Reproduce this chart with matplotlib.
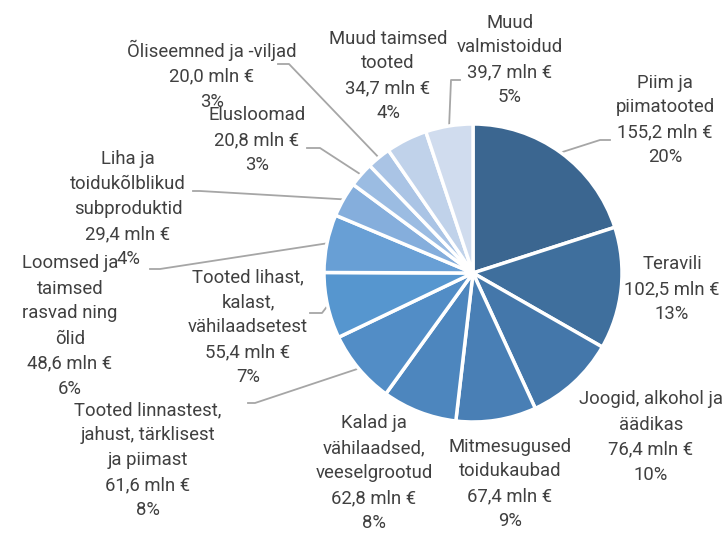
import matplotlib
matplotlib.use("Agg")
import matplotlib.pyplot as plt
import numpy as np

plt.rcParams['font.family'] = ['Roboto', 'DejaVu Sans']

# data, clockwise from 12 o'clock
labels = ["Piim ja\npiimatooted", "Teravili", "Joogid, alkohol ja\näädikas",
          "Mitmesugused\ntoidukaubad", "Kalad ja\nvähilaadsed,\nveeselgrootud",
          "Tooted linnastest,\njahust, tärklisest\nja piimast",
          "Tooted lihast,\nkalast,\nvähilaadsetest",
          "Loomsed ja\ntaimsed\nrasvad ning\nõlid",
          "Liha ja\ntoidukõlblikud\nsubproduktid", "Elusloomad",
          "Õliseemned ja -viljad", "Muud taimsed\ntooted", "Muud\nvalmistoidud"]
values = [155.2, 102.5, 76.4, 67.4, 62.8, 61.6, 55.4, 48.6, 29.4, 20.8, 20.0, 34.7, 39.7]
colors = ["#3B6690", "#3F6F9D", "#4477AA", "#497FB5", "#4D86BE", "#528DC6", "#5696CF",
          "#689FD5", "#85AEDC", "#9BBCE2", "#AAC4E5", "#C0D2EA", "#D0DCEE"]

W, H = 727, 534
cx, cy, R = 473, 273, 149

# label centers in pixels
label_pos = [(665, 120), (672, 289), (651, 437), (510, 484), (374, 473), (148, 460),
             (248, 327), (70, 326), (128, 209), (257, 140), (212, 75), (388, 76), (510, 60)]
# leader elbows in pixels (None = no leader)
leaders = [[(600, 140), (610, 140)], None, None, None, None,
           [(255, 403), (248, 403)], [(322, 313), (310, 313)],
           [(160, 269), (150, 269)], [(200, 191), (193, 191)],
           [(320, 148), (307, 148)], [(289, 64), (278, 64)], None,
           [(451, 80), (460, 80)]]

fig = plt.figure(figsize=(W / 100, H / 100), dpi=100)
ax = fig.add_axes([(cx - R) / W, (H - cy - R) / H, 2 * R / W, 2 * R / H])
wedges, _ = ax.pie(values, colors=colors, startangle=90, counterclock=False, radius=1,
                   wedgeprops=dict(edgecolor="white", linewidth=2.5))
ax.set_xlim(-1, 1)
ax.set_ylim(-1, 1)
ax.set_aspect("equal")
ax.axis("off")

total = sum(values)


def px2data(p):
    return (p[0] - cx) / R, (cy - p[1]) / R


for i, w in enumerate(wedges):
    pct = round(values[i] / total * 100)
    txt = f"{labels[i]}\n{values[i]:.1f} mln €".replace(".", ",") + f"\n{pct}%"
    x, y = label_pos[i]
    fig.text(x / W, 1 - y / H, txt, ha="center", va="center", fontsize=13.3,
             color="#404040", linespacing=1.5)
    if leaders[i] is not None:
        ang = np.deg2rad((w.theta1 + w.theta2) / 2)
        pts = [(np.cos(ang) * 1.0, np.sin(ang) * 1.0)] + [px2data(p) for p in leaders[i]]
        xs, ys = zip(*pts)
        ax.plot(xs, ys, color="#A6A6A6", lw=1.3, clip_on=False, zorder=0)

fig.savefig("out.png", dpi=100)
